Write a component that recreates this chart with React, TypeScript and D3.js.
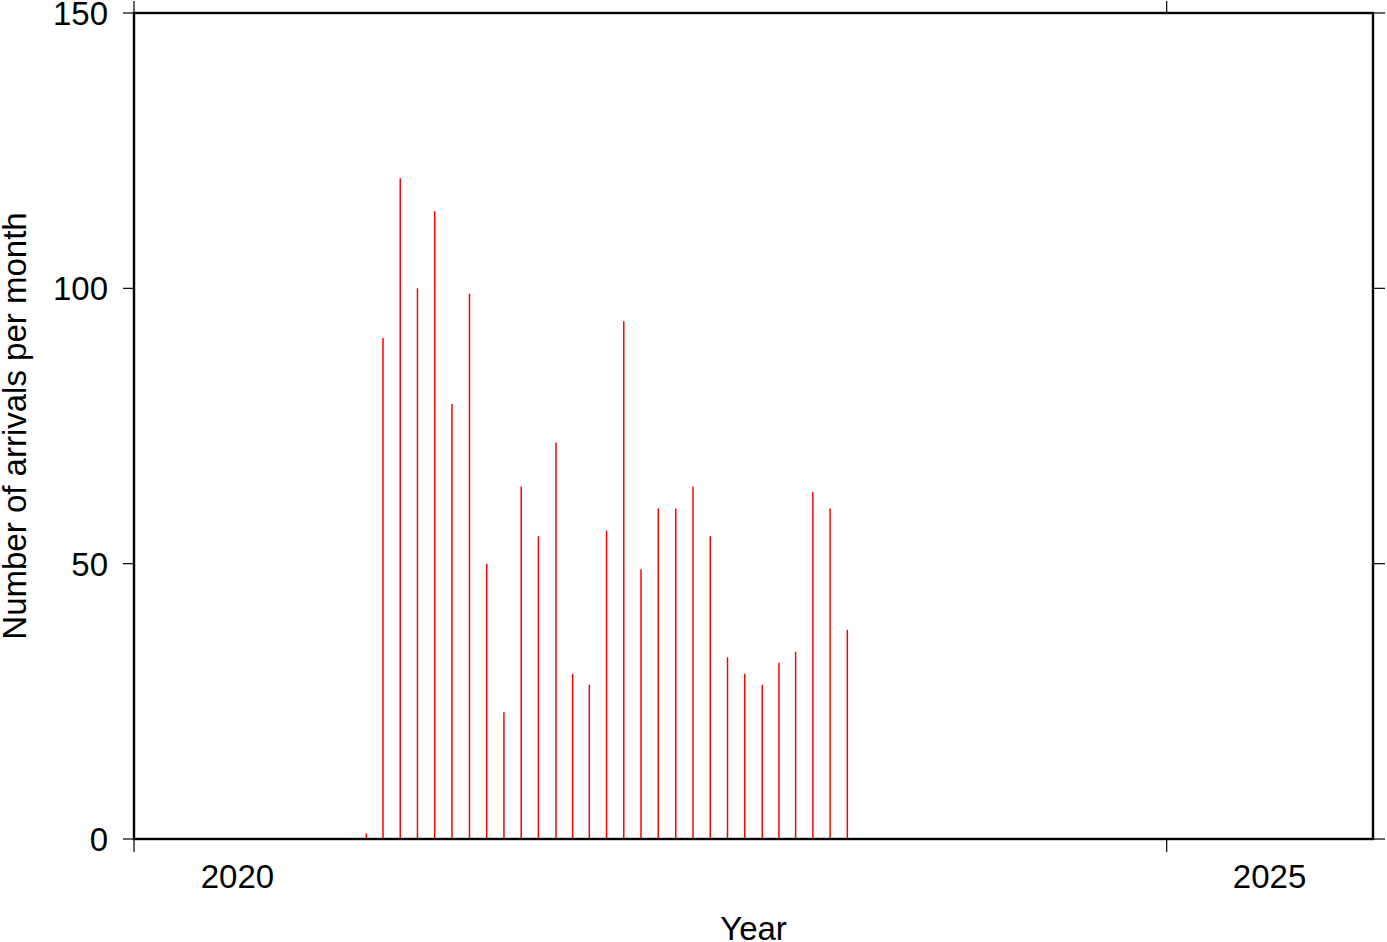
import React from "react";
import * as d3 from "d3";

const startMonth = "2021-02";
const monthlyArrivals = [1, 91, 120, 100, 114, 79, 99, 50, 23, 64, 55, 72, 30, 28, 56, 94, 49, 60, 60, 64, 55, 33, 30, 28, 32, 34, 63, 60, 38];
const yearTicks = [2020, 2025];
const yTicks = [0, 50, 100, 150];
const xDomainYears = [2020, 2026];
const yDomain = [0, 150];

const W = 1387, H = 942;
const L = 134, R = 1373, T = 13, B = 839;
const FONT = "'Liberation Sans', Arial, Helvetica, sans-serif";
const FS = 33;

export default function App() {
  const x = d3.scaleTime()
    .domain([new Date(xDomainYears[0], 0, 1), new Date(xDomainYears[1], 0, 1)])
    .range([L, R]);
  const y = d3.scaleLinear().domain(yDomain).range([B, T]);
  const parse = d3.timeParse("%Y-%m");
  const start = parse(startMonth) as Date;
  const bars = monthlyArrivals.map((v, i) => {
    const s = d3.timeMonth.offset(start, i);
    const e = d3.timeMonth.offset(start, i + 1);
    const mid = new Date((s.getTime() + e.getTime()) / 2);
    return { x: x(mid), v };
  });
  return (
    <svg width={W} height={H} style={{ position: "absolute", left: 0, top: 0, background: "#fff" }}>
      {bars.map((b, i) => (
        <line key={i} x1={b.x} x2={b.x} y1={y(0)} y2={y(b.v)} stroke="#ff0000" strokeWidth={1.5} />
      ))}
      {yTicks.map((t) => (
        <g key={t}>
          <line x1={L - 11} x2={L} y1={y(t)} y2={y(t)} stroke="#000" strokeWidth={1.2} />
          <line x1={R} x2={R + 12} y1={y(t)} y2={y(t)} stroke="#000" strokeWidth={1.2} />
          <text x={L - 26} y={y(t)} dy="0.36em" textAnchor="end" fontFamily={FONT} fontSize={FS} fill="#000">{t}</text>
        </g>
      ))}
      {yearTicks.map((t) => {
        const xp = x(new Date(t, 0, 1));
        const xm = x(new Date(t, 6, 2));
        return (
          <g key={t}>
            <line x1={xp} x2={xp} y1={B} y2={B + 13} stroke="#000" strokeWidth={1.2} />
            <line x1={xp} x2={xp} y1={T} y2={T - 12} stroke="#000" strokeWidth={1.2} />
            <text x={xm} y={888} textAnchor="middle" fontFamily={FONT} fontSize={FS} fill="#000">{t}</text>
          </g>
        );
      })}
      <rect x={L} y={T} width={R - L} height={B - T} fill="none" stroke="#000" strokeWidth={2.4} />
      <text x={(L + R) / 2} y={940} textAnchor="middle" fontFamily={FONT} fontSize={FS} fill="#000">Year</text>
      <text transform={`translate(26,${(T + B) / 2}) rotate(-90)`} textAnchor="middle" fontFamily={FONT} fontSize={FS} fill="#000">Number of arrivals per month</text>
    </svg>
  );
}
